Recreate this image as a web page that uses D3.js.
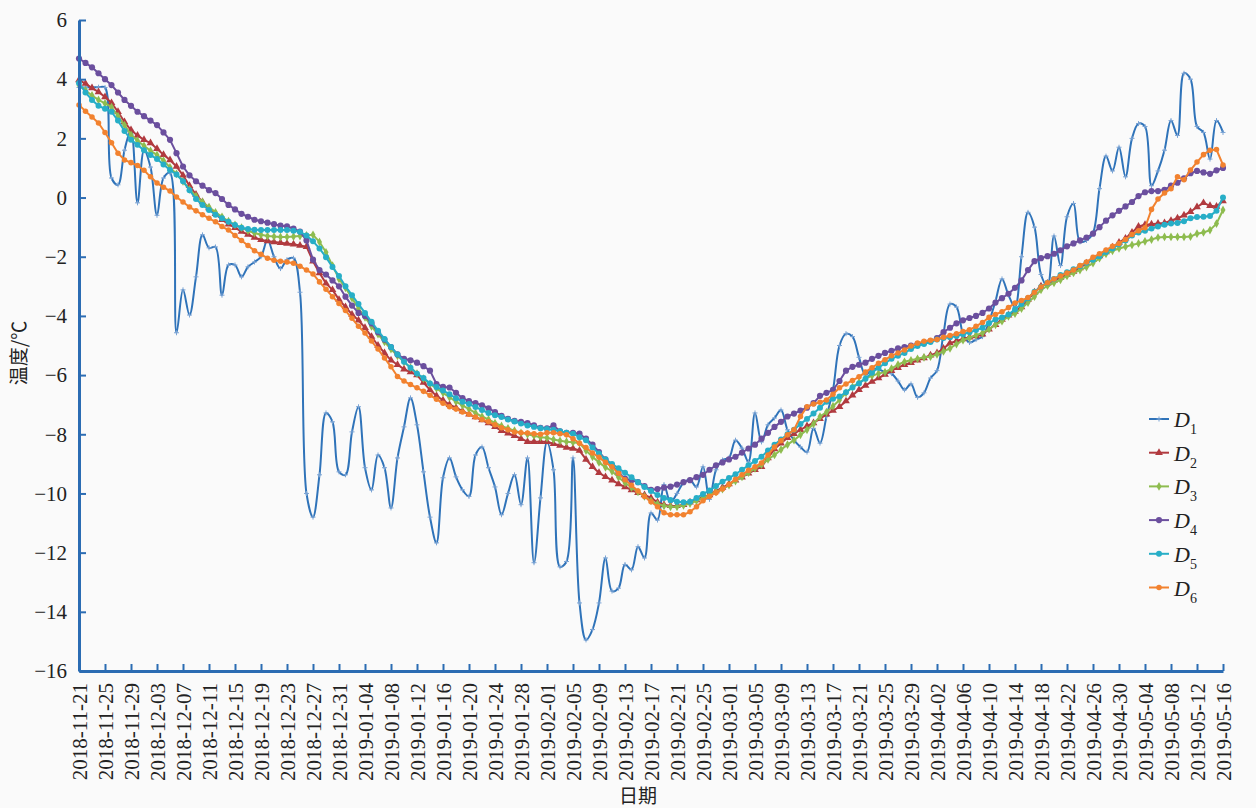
<!DOCTYPE html>
<html>
<head>
<meta charset="utf-8">
<script src="https://cdn.jsdelivr.net/npm/d3@7"></script>
<style>
  body { margin: 0; background: #fafafa; }
  svg { display: block; }
</style>
</head>
<body>
<svg id="chart" width="1256" height="808"></svg>
<script>
// dates: one point per day
const startDate = "2018-11-21";
const endDate = "2019-05-16";

const tickLabels = [
  "2018-11-21","2018-11-25","2018-11-29","2018-12-03","2018-12-07","2018-12-11",
  "2018-12-15","2018-12-19","2018-12-23","2018-12-27","2018-12-31","2019-01-04",
  "2019-01-08","2019-01-12","2019-01-16","2019-01-20","2019-01-24","2019-01-28",
  "2019-02-01","2019-02-05","2019-02-09","2019-02-13","2019-02-17","2019-02-21",
  "2019-02-25","2019-03-01","2019-03-05","2019-03-09","2019-03-13","2019-03-17",
  "2019-03-21","2019-03-25","2019-03-29","2019-04-02","2019-04-06","2019-04-10",
  "2019-04-14","2019-04-18","2019-04-22","2019-04-26","2019-04-30","2019-05-04",
  "2019-05-08","2019-05-12","2019-05-16"
];

const yTicks = [6, 4, 2, 0, -2, -4, -6, -8, -10, -12, -14, -16];

const seriesNames = ["1", "2", "3", "4", "5", "6"];

const d1 = [
  3.72, 3.72, 3.73, 3.73, 3.72, 0.66, 0.43, 1.6, 2.28, -0.18,
  1.6, 1.03, -0.6, 0.66, 0.83, -4.57, -3.12, -3.97, -2.68, -1.26,
  -1.7, -1.67, -3.3, -2.28, -2.28, -2.68, -2.34, -2.18, -2.0, -1.43,
  -2.0, -2.4, -2.1, -2.05, -3.2, -10.0, -10.8, -9.37, -7.28, -7.58,
  -9.27, -9.37, -7.92, -7.07, -9.13, -9.88, -8.7, -9.13, -10.49, -8.8,
  -7.75, -6.77, -7.68, -9.27, -10.8, -11.67, -9.47, -8.8, -9.44, -9.88,
  -10.1, -8.7, -8.43, -9.13, -9.78, -10.72, -10.0, -9.37, -10.38, -8.8,
  -12.34, -10.15, -8.26, -9.2, -12.48, -12.3, -8.8, -13.7, -14.95, -14.6,
  -13.7, -12.18, -13.3, -13.2, -12.4, -12.58, -11.8, -12.18, -10.66, -10.9,
  -9.7, -10.3, -10.0, -9.64, -9.54, -9.78, -9.1, -10.2, -9.2, -8.87,
  -8.8, -8.2, -8.47, -8.93, -7.28, -8.26, -7.68, -7.45, -7.18, -7.85,
  -8.2, -8.43, -8.6, -7.8, -8.3, -7.4, -6.5, -5.0, -4.6, -4.7,
  -5.4, -6.0, -5.8, -5.8, -5.9, -5.95, -6.2, -6.5, -6.3, -6.75,
  -6.6, -6.1, -5.85, -4.6, -3.6, -3.7, -4.6, -4.9, -4.8, -4.7,
  -4.2, -3.5, -2.75, -3.3, -3.7, -2.0, -0.5, -1.0, -2.6, -3.0,
  -1.3, -2.3, -0.65, -0.2, -1.5, -1.45, -1.2, 0.3, 1.4, 0.9,
  1.7, 0.7, 2.0, 2.5, 2.4, 0.4, 0.9, 1.6, 2.6, 2.1,
  4.2, 4.0, 2.4, 2.2, 1.3, 2.6, 2.2
];

const d2 = [
  3.97, 3.85, 3.70, 3.57, 3.40, 3.20, 2.90, 2.55, 2.28, 2.10,
  1.95, 1.84, 1.65, 1.45, 1.27, 1.05, 0.75, 0.40, 0.10, -0.15,
  -0.35, -0.55, -0.75, -0.90, -1.02, -1.15, -1.25, -1.35, -1.43, -1.47,
  -1.50, -1.53, -1.55, -1.58, -1.62, -1.66, -2.15, -2.55, -2.90, -3.12,
  -3.45, -3.70, -3.95, -4.15, -4.40, -4.70, -5.00, -5.25, -5.50, -5.65,
  -5.80, -5.90, -6.00, -6.25, -6.50, -6.70, -6.85, -7.00, -7.10, -7.22,
  -7.32, -7.42, -7.52, -7.62, -7.75, -7.88, -7.97, -8.05, -8.15, -8.25,
  -8.25, -8.25, -8.25, -8.32, -8.38, -8.45, -8.48, -8.55, -8.85, -9.10,
  -9.30, -9.44, -9.55, -9.68, -9.78, -9.88, -9.98, -10.05, -10.15, -10.30,
  -10.38, -10.42, -10.42, -10.38, -10.30, -10.22, -10.12, -10.05, -9.92, -9.80,
  -9.68, -9.55, -9.45, -9.32, -9.20, -9.10, -8.80, -8.50, -8.30, -8.12,
  -7.98, -7.85, -7.72, -7.62, -7.48, -7.32, -7.20, -7.07, -6.88, -6.68,
  -6.50, -6.35, -6.22, -6.10, -5.98, -5.85, -5.75, -5.65, -5.58, -5.50,
  -5.42, -5.33, -5.25, -5.10, -4.92, -4.85, -4.78, -4.72, -4.68, -4.62,
  -4.45, -4.30, -4.12, -3.98, -3.85, -3.70, -3.45, -3.20, -3.00, -2.90,
  -2.80, -2.70, -2.60, -2.50, -2.38, -2.22, -2.10, -1.98, -1.84, -1.68,
  -1.52, -1.38, -1.18, -0.98, -0.92, -0.90, -0.88, -0.86, -0.78, -0.70,
  -0.60, -0.48, -0.32, -0.18, -0.28, -0.30, -0.12
];

const d3v = [
  3.80, 3.62, 3.45, 3.30, 3.18, 3.06, 2.75, 2.45, 2.12, 1.92,
  1.75, 1.58, 1.44, 1.25, 1.02, 0.80, 0.55, 0.28, 0.05, -0.15,
  -0.32, -0.50, -0.65, -0.80, -0.92, -1.02, -1.12, -1.20, -1.26, -1.30,
  -1.32, -1.33, -1.33, -1.32, -1.30, -1.28, -1.26, -1.50, -1.85, -2.30,
  -2.75, -3.05, -3.40, -3.75, -4.05, -4.35, -4.62, -4.88, -5.12, -5.35,
  -5.55, -5.75, -5.95, -6.12, -6.30, -6.45, -6.60, -6.75, -6.90, -7.02,
  -7.15, -7.28, -7.40, -7.50, -7.62, -7.72, -7.80, -7.88, -7.95, -8.00,
  -8.05, -8.10, -8.12, -8.18, -8.22, -8.25, -8.27, -8.30, -8.55, -8.76,
  -8.95, -9.12, -9.25, -9.45, -9.64, -9.80, -9.95, -10.10, -10.25, -10.35,
  -10.42, -10.45, -10.45, -10.40, -10.34, -10.25, -10.15, -10.05, -9.95, -9.85,
  -9.72, -9.58, -9.44, -9.30, -9.15, -9.03, -8.85, -8.70, -8.52, -8.35,
  -8.20, -8.02, -7.85, -7.65, -7.40, -7.25, -7.05, -6.84, -6.60, -6.40,
  -6.25, -6.12, -6.02, -5.95, -5.90, -5.78, -5.65, -5.55, -5.50, -5.45,
  -5.40, -5.38, -5.30, -5.20, -5.10, -4.95, -4.82, -4.74, -4.65, -4.58,
  -4.45, -4.30, -4.18, -4.02, -3.92, -3.75, -3.55, -3.35, -3.12, -2.98,
  -2.88, -2.78, -2.65, -2.55, -2.45, -2.35, -2.22, -2.05, -1.90, -1.80,
  -1.72, -1.66, -1.60, -1.55, -1.48, -1.42, -1.35, -1.33, -1.33, -1.33,
  -1.33, -1.32, -1.22, -1.18, -1.10, -0.88, -0.42
];

const d4 = [
  4.70, 4.55, 4.40, 4.20, 4.00, 3.80, 3.55, 3.30, 3.10, 2.90,
  2.75, 2.60, 2.45, 2.20, 1.95, 1.50, 1.05, 0.75, 0.55, 0.40,
  0.25, 0.15, -0.05, -0.25, -0.40, -0.55, -0.65, -0.75, -0.80, -0.85,
  -0.90, -0.95, -0.97, -1.05, -1.15, -1.45, -2.10, -2.45, -2.60, -2.80,
  -3.00, -3.35, -3.65, -3.90, -4.00, -4.25, -4.55, -4.80, -5.05, -5.30,
  -5.45, -5.50, -5.58, -5.70, -5.85, -6.30, -6.40, -6.42, -6.60, -6.78,
  -6.88, -6.95, -7.02, -7.12, -7.25, -7.38, -7.48, -7.55, -7.58, -7.62,
  -7.70, -7.78, -7.80, -7.70, -7.90, -7.95, -7.95, -7.98, -8.15, -8.35,
  -8.60, -8.85, -9.05, -9.30, -9.50, -9.55, -9.62, -9.75, -9.88, -9.85,
  -9.80, -9.77, -9.70, -9.62, -9.55, -9.45, -9.37, -9.20, -9.05, -8.95,
  -8.85, -8.76, -8.62, -8.48, -8.35, -8.15, -7.95, -7.75, -7.58, -7.40,
  -7.30, -7.20, -7.10, -6.95, -6.70, -6.60, -6.50, -6.20, -5.85, -5.72,
  -5.65, -5.58, -5.45, -5.35, -5.25, -5.18, -5.10, -5.05, -5.00, -4.95,
  -4.90, -4.85, -4.75, -4.55, -4.40, -4.25, -4.15, -4.07, -4.00, -3.90,
  -3.75, -3.55, -3.40, -3.25, -3.05, -2.80, -2.45, -2.15, -2.05, -1.98,
  -1.90, -1.78, -1.65, -1.55, -1.45, -1.35, -1.22, -1.00, -0.78, -0.60,
  -0.45, -0.30, -0.15, 0.05, 0.18, 0.22, 0.22, 0.26, 0.40, 0.50,
  0.65, 0.82, 0.90, 0.85, 0.80, 0.92, 1.00
];

const d5 = [
  3.87, 3.55, 3.30, 3.10, 3.00, 2.90, 2.60, 2.25, 1.95, 1.78,
  1.60, 1.44, 1.30, 1.12, 0.93, 0.78, 0.55, 0.25, -0.05, -0.25,
  -0.42, -0.58, -0.70, -0.82, -0.93, -1.02, -1.06, -1.09, -1.10, -1.10,
  -1.10, -1.10, -1.10, -1.12, -1.16, -1.28, -1.48, -1.72, -2.02, -2.35,
  -2.65, -3.00, -3.30, -3.60, -3.90, -4.20, -4.50, -4.78, -5.05, -5.30,
  -5.55, -5.75, -5.95, -6.10, -6.28, -6.40, -6.52, -6.65, -6.78, -6.90,
  -6.98, -7.08, -7.18, -7.28, -7.36, -7.42, -7.50, -7.57, -7.64, -7.70,
  -7.75, -7.80, -7.82, -7.85, -7.90, -7.95, -7.98, -8.10, -8.20, -8.45,
  -8.65, -8.85, -9.00, -9.15, -9.30, -9.45, -9.62, -9.78, -9.92, -10.05,
  -10.15, -10.22, -10.28, -10.30, -10.28, -10.15, -10.02, -9.90, -9.75, -9.60,
  -9.48, -9.35, -9.20, -9.05, -8.90, -8.76, -8.55, -8.35, -8.18, -8.00,
  -7.85, -7.65, -7.48, -7.30, -7.10, -6.90, -6.80, -6.72, -6.58, -6.42,
  -6.28, -6.12, -5.92, -5.75, -5.60, -5.45, -5.35, -5.25, -5.12, -5.02,
  -4.95, -4.88, -4.80, -4.75, -4.72, -4.68, -4.62, -4.55, -4.48, -4.40,
  -4.25, -4.12, -4.05, -3.95, -3.78, -3.60, -3.40, -3.18, -3.02, -2.88,
  -2.75, -2.62, -2.52, -2.42, -2.32, -2.20, -2.10, -1.98, -1.84, -1.72,
  -1.58, -1.45, -1.28, -1.18, -1.12, -1.05, -0.98, -0.92, -0.88, -0.86,
  -0.80, -0.70, -0.66, -0.65, -0.62, -0.45, 0.00
];

const d6 = [
  3.13, 2.92, 2.72, 2.52, 2.20, 1.85, 1.50, 1.27, 1.18, 1.08,
  0.92, 0.70, 0.49, 0.35, 0.22, 0.02, -0.15, -0.32, -0.45, -0.58,
  -0.70, -0.82, -0.98, -1.10, -1.28, -1.45, -1.62, -1.80, -1.92, -2.05,
  -2.12, -2.15, -2.18, -2.22, -2.32, -2.45, -2.58, -2.85, -3.10, -3.35,
  -3.58, -3.82, -4.08, -4.35, -4.58, -4.85, -5.12, -5.42, -5.72, -6.05,
  -6.20, -6.32, -6.43, -6.55, -6.68, -6.82, -6.95, -7.07, -7.15, -7.25,
  -7.32, -7.42, -7.50, -7.58, -7.68, -7.78, -7.85, -7.92, -7.95, -7.96,
  -7.98, -8.00, -7.95, -7.95, -7.98, -8.02, -8.15, -8.30, -8.45, -8.63,
  -8.78, -8.95, -9.10, -9.32, -9.54, -9.72, -9.92, -10.10, -10.28, -10.45,
  -10.65, -10.72, -10.72, -10.72, -10.62, -10.45, -10.25, -10.10, -9.98, -9.85,
  -9.70, -9.52, -9.37, -9.22, -9.10, -8.97, -8.70, -8.43, -8.22, -8.02,
  -7.85, -7.40, -7.07, -6.98, -6.92, -6.84, -6.65, -6.43, -6.30, -6.18,
  -6.06, -5.90, -5.75, -5.60, -5.48, -5.35, -5.25, -5.15, -5.02, -4.92,
  -4.86, -4.82, -4.80, -4.72, -4.66, -4.60, -4.53, -4.47, -4.35, -4.22,
  -4.05, -3.95, -3.86, -3.72, -3.56, -3.48, -3.38, -3.20, -3.02, -2.88,
  -2.75, -2.65, -2.55, -2.45, -2.30, -2.18, -2.02, -1.90, -1.77, -1.65,
  -1.55, -1.42, -1.25, -1.12, -1.02, -0.40, -0.05, 0.15, 0.30, 0.70,
  0.60, 0.93, 1.20, 1.45, 1.60, 1.62, 1.10
];

const colors = ["#2f73b9", "#b13a3f", "#8ebc4f", "#6b4f9e", "#27aec7", "#f2822f"];
const axisColor = "#2b6cb3";
const numFont = "'Liberation Serif', 'Times New Roman', 'DejaVu Serif', serif";
const cjkFont = "'Noto Sans CJK SC', sans-serif";

const parseDate = d3.utcParse("%Y-%m-%d");
const dates = d3.utcDay.range(parseDate(startDate), d3.utcDay.offset(parseDate(endDate), 1));

const allValues = [d1, d2, d3v, d4, d5, d6];
allValues.forEach((v, k) => {
  if (v.length !== dates.length) console.error("series D" + seriesNames[k] + " has " + v.length + " values, expected " + dates.length);
});

const margin = { top: 20, right: 33, bottom: 137, left: 79 };
const width = 1256 - margin.left - margin.right;
const height = 808 - margin.top - margin.bottom;

const svg = d3.select("#chart");

const x = d3.scaleUtc()
  .domain([dates[0], dates[dates.length - 1]])
  .range([margin.left, margin.left + width]);

const y = d3.scaleLinear()
  .domain([-16, 6])
  .range([margin.top + height, margin.top]);

// markers per series (D1 gets small crosses)
const marker = [
  null,
  d3.symbol().type(d3.symbolTriangle).size(26),
  d3.symbol().type(d3.symbolDiamond).size(22),
  d3.symbol().type(d3.symbolCircle).size(30),
  d3.symbol().type(d3.symbolCircle).size(28),
  d3.symbol().type(d3.symbolCircle).size(24)
];

const plot = svg.append("g");

allValues.forEach((vals, k) => {
  const pts = vals.map((v, i) => ({ date: dates[i], v: v }));
  const line = d3.line()
    .x(d => x(d.date))
    .y(d => y(d.v))
    .curve(k === 0 ? d3.curveCatmullRom.alpha(0.5) : d3.curveLinear);

  const g = plot.append("g").attr("class", "series-" + k);

  g.append("path")
    .datum(pts)
    .attr("d", line)
    .attr("fill", "none")
    .attr("stroke", colors[k])
    .attr("stroke-width", 2)
    .attr("stroke-linejoin", "round");

  if (k === 0) {
    g.selectAll(".plus")
      .data(pts)
      .enter().append("path")
      .attr("d", d => {
        const cx = x(d.date), cy = y(d.v);
        return "M" + (cx - 2.5) + "," + cy + "H" + (cx + 2.5) + "M" + cx + "," + (cy - 2.5) + "V" + (cy + 2.5);
      })
      .attr("stroke", "#7aa3d4")
      .attr("stroke-width", 1);
  } else {
    g.selectAll(".mk")
      .data(pts)
      .enter().append("path")
      .attr("d", marker[k])
      .attr("transform", d => "translate(" + x(d.date) + "," + y(d.v) + ")")
      .attr("fill", colors[k]);
  }
});

// axes
const yAxis = d3.axisLeft(y)
  .tickValues(yTicks)
  .tickSizeInner(-7)
  .tickSizeOuter(0)
  .tickPadding(12);

const gy = svg.append("g")
  .attr("transform", "translate(" + margin.left + ",0)")
  .call(yAxis)
  .attr("font-family", numFont)
  .attr("font-size", 21);

gy.select(".domain").attr("stroke", axisColor).attr("stroke-width", 3);
gy.selectAll(".tick line").attr("stroke", axisColor).attr("stroke-width", 2);
gy.selectAll(".tick text")
  .attr("fill", "#222")
  .style("font-family", numFont)
  .style("font-size", "21px");

const xAxis = d3.axisBottom(x)
  .tickValues(tickLabels.map(parseDate))
  .tickFormat(d3.utcFormat("%Y-%m-%d"))
  .tickSizeInner(-7)
  .tickSizeOuter(0);

const gx = svg.append("g")
  .attr("transform", "translate(0," + (margin.top + height) + ")")
  .call(xAxis)
  .attr("font-family", numFont)
  .attr("font-size", 21);

gx.select(".domain").attr("stroke", axisColor).attr("stroke-width", 3);
gx.selectAll(".tick line").attr("stroke", axisColor).attr("stroke-width", 2);
gx.selectAll(".tick text")
  .attr("fill", "#222")
  .attr("transform", "rotate(-90)")
  .attr("x", -12)
  .attr("y", 0)
  .attr("dy", "0.35em")
  .attr("text-anchor", "end")
  .style("font-family", numFont)
  .style("font-size", "21px");

// axis titles
svg.append("text")
  .attr("transform", "translate(26,353) rotate(-90)")
  .attr("text-anchor", "middle")
  .attr("fill", "#222")
  .style("font-family", cjkFont)
  .style("font-size", "19px")
  .text("温度/℃");

svg.append("text")
  .attr("x", 638)
  .attr("y", 803)
  .attr("text-anchor", "middle")
  .attr("fill", "#222")
  .style("font-family", cjkFont)
  .style("font-size", "19px")
  .text("日期");

// legend
const legend = svg.append("g").attr("transform", "translate(1149,419)");
seriesNames.forEach((name, k) => {
  const row = legend.append("g").attr("transform", "translate(0," + (k * 33.7) + ")");
  row.append("line")
    .attr("x1", 0).attr("x2", 20)
    .attr("y1", 0).attr("y2", 0)
    .attr("stroke", colors[k])
    .attr("stroke-width", 2);
  if (k === 0) {
    row.append("path")
      .attr("d", "M7.5,0H12.5M10,-2.5V2.5")
      .attr("stroke", "#7aa3d4")
      .attr("stroke-width", 1);
  } else {
    row.append("path")
      .attr("d", marker[k])
      .attr("transform", "translate(10,0)")
      .attr("fill", colors[k]);
  }
  const t = row.append("text")
    .attr("x", 25)
    .attr("y", 8)
    .attr("fill", "#222")
    .style("font-family", numFont)
    .style("font-size", "22px");
  t.append("tspan").style("font-style", "italic").text("D");
  t.append("tspan")
    .attr("dy", 7)
    .style("font-size", "14px")
    .text(name);
});
</script>
</body>
</html>
